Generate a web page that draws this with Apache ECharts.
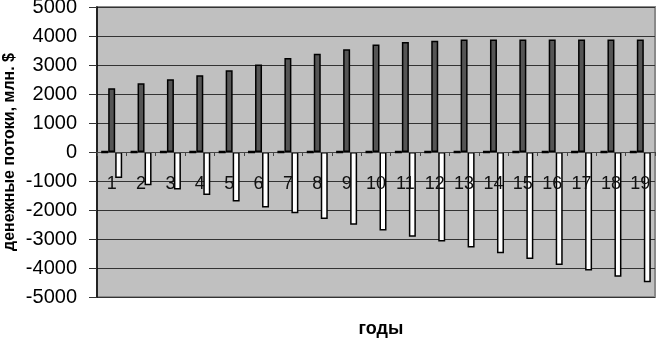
<!DOCTYPE html>
<html><head><meta charset="utf-8">
<script src="https://cdn.jsdelivr.net/npm/echarts@6/dist/echarts.min.js"></script>
<style>html,body{margin:0;padding:0;background:#fff}#c{width:656px;height:340px}</style>
</head><body><div id="c"></div>
<script>
const years = ['1','2','3','4','5','6','7','8','9','10','11','12','13','14','15','16','17','18','19'];
const zeroFlows = [0,0,0,0,0,0,0,0,0,0,0,0,0,0,0,0,0,0,0];
const inflows = [2200,2370,2510,2650,2820,3020,3240,3390,3540,3710,3790,3840,3880,3880,3880,3880,3880,3880,3880];
const outflows = [-900,-1150,-1290,-1480,-1710,-1910,-2110,-2310,-2510,-2710,-2920,-3090,-3290,-3490,-3690,-3900,-4090,-4300,-4490];
const yTicks = {min:-5000, max:5000, step:1000};

const font = '"Liberation Sans", Arial, sans-serif';
const chart = echarts.init(document.getElementById('c'), null, {renderer:'canvas'});
const barStyle = (fill, bw) => ({color: fill, borderColor: '#000', borderWidth: bw});
chart.setOption({
  animation: false,
  title: {text: 'годы', left: 376, top: 315, textAlign: 'center',
    textStyle: {fontSize: 18, fontWeight: 'bold', color: '#000', fontFamily: font}},
  grid: {left: 97, right: 1, top: 7, bottom: 43, containLabel: false, outerBoundsMode: 'none', show: true, backgroundColor: '#c0c0c0', borderColor: '#8a8a8a', borderWidth: 2},
  xAxis: {
    type: 'category', data: years, z: 5, position: 'bottom', offset: -145,
    axisLine: {onZero: false, lineStyle: {color: '#444', width: 1}},
    axisTick: {show: true, length: 4, lineStyle: {color: '#444'}},
    axisLabel: {margin: 23, fontSize: 18, color: '#111', fontFamily: font, interval: 0, hideOverlap: false}
  },
  yAxis: {
    type: 'value', min: yTicks.min, max: yTicks.max, interval: yTicks.step,
    axisLine: {show: true, lineStyle: {color: '#000', width: 1.5}},
    axisTick: {show: true, length: 8, lineStyle: {color: '#333'}},
    axisLabel: {margin: 20, fontSize: 20, color: '#000', fontFamily: font, showMinLabel: true, showMaxLabel: true, hideOverlap: false, formatter: v => String(v)},
    splitLine: {show: true, lineStyle: {color: '#333', width: 1}},
    name: 'денежные потоки, млн. $', nameLocation: 'middle', nameGap: 79, nameMoveOverlap: false,
    nameTextStyle: {fontSize: 16, fontWeight: 'bold', color: '#000', fontFamily: font}
  },
  series: [
    {type: 'bar', z: 6, data: zeroFlows, barWidth: 7, barGap: '0%', itemStyle: barStyle('#555555', 2.5)},
    {type: 'bar', z: 4, data: inflows, barWidth: 7, barGap: '0%', itemStyle: barStyle('#555555', 1.5)},
    {type: 'bar', z: 4, data: outflows, barWidth: 7, barGap: '0%', itemStyle: barStyle('#ffffff', 1.5)}
  ]
});
</script></body></html>
